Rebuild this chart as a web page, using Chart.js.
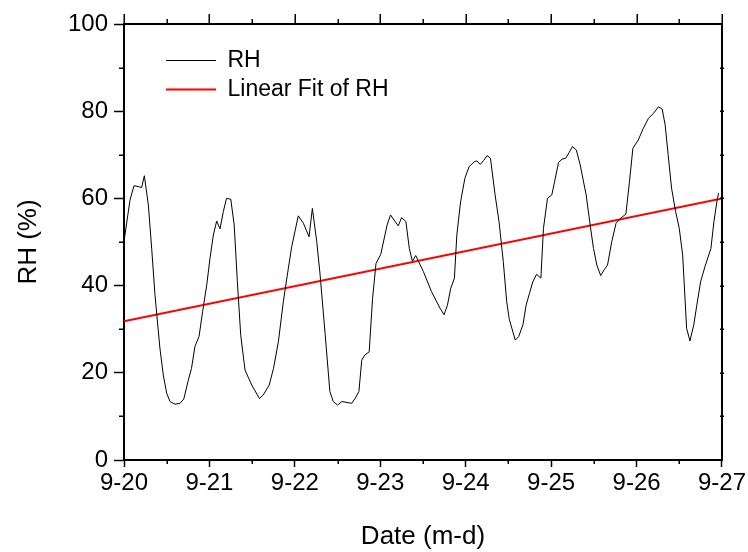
<!DOCTYPE html>
<html>
<head>
<meta charset="utf-8">
<script src="https://cdn.jsdelivr.net/npm/chart.js@4.4.1/dist/chart.umd.min.js"></script>
<style>
  html,body{margin:0;padding:0;background:#fff;}
  canvas{display:block;}
</style>
</head>
<body>
<canvas id="c" width="748" height="552"></canvas>
<script>
// tick labels on the date axis (days after 9-20 00:00)
const dateLabels = ['9-20','9-21','9-22','9-23','9-24','9-25','9-26','9-27'];

// RH series: time in days since 9-20, RH in %
const rhDays = [0.00,0.07,0.117,0.168,0.207,0.238,0.285,0.324,0.363,0.42,0.46,0.50,0.539,0.597,0.656,0.70,0.753,0.79,0.83,0.878,0.92,0.968,
  1.007,1.046,1.085,1.124,1.163,1.20,1.25,1.29,1.327,1.366,1.417,1.495,1.585,1.63,1.70,1.75,1.807,1.865,1.924,1.963,
  2.04,2.10,2.166,2.205,2.256,2.295,2.354,2.41,2.45,2.50,2.55,2.61,2.666,2.705,2.75,2.783,2.82,2.87,2.91,2.95,
  3.006,3.08,3.12,3.17,3.21,3.25,3.30,3.34,3.376,3.415,3.505,3.60,3.70,3.747,3.786,3.825,3.868,3.896,3.94,3.99,
  4.04,4.10,4.13,4.17,4.21,4.25,4.29,4.344,4.39,4.44,4.48,4.51,4.58,4.62,4.67,4.707,4.746,4.786,4.83,4.88,4.91,4.957,
  5.008,5.04,5.086,5.126,5.17,5.21,5.25,5.295,5.34,5.41,5.457,5.496,5.535,5.58,5.62,5.66,5.71,5.76,5.81,5.875,5.917,5.957,
  6.02,6.08,6.14,6.198,6.256,6.30,6.335,6.37,6.41,6.457,6.50,6.54,6.586,6.625,6.67,6.705,6.75,6.80,6.87,6.906,6.94,6.96];
const rhValues = [50.1,59.6,62.9,62.7,62.5,65.2,58.5,48.5,37.8,25.7,19.5,15.3,13.4,12.8,13.0,14.0,18.3,21.0,26.0,28.3,34.0,40.1,
  46.3,51.6,54.8,53.0,57.0,60.0,59.8,53.9,40.9,28.7,20.6,17.2,14.1,14.9,17.2,21.0,27.1,36.3,44.0,48.9,
  56.0,54.3,51.2,57.7,50.1,42.6,29.0,15.7,13.4,12.6,13.4,13.2,13.0,14.1,15.7,22.9,24.1,24.8,37.1,45.1,
  47.2,53.9,56.2,54.8,53.7,55.6,54.7,48.5,45.6,46.9,43.2,38.6,34.8,33.3,35.5,39.4,41.7,51.6,59.2,64.6,
  67.3,68.4,68.6,67.8,68.7,69.8,69.2,60.8,54.7,45.5,36.3,32.3,27.5,28.3,31.0,35.5,38.2,40.9,42.6,41.7,53.1,60.0,
  60.8,63.8,68.2,69.0,69.2,70.5,71.9,71.1,67.7,60.8,53.9,48.5,44.7,42.3,43.6,44.7,50.1,54.3,55.4,56.4,63.8,71.5,
  73.4,76.1,78.4,79.5,81.0,80.5,76.8,70.0,62.3,57.0,53.1,47.0,30.2,27.3,31.0,35.5,40.9,44.3,48.5,54.7,59.2,61.2];

// linear fit end points
const fitDays = [0, 7];
const fitValues = [31.8, 60.0];

Chart.defaults.font.family = '"Liberation Sans", Arial, sans-serif';
Chart.defaults.color = '#000';

// frame on top/right plus the minor ticks Chart.js has no option for
const frame = {
  id: 'frame',
  afterLayout(c) { if (c.legend) { c.legend.left += 36; c.legend.top += 43; } },
  afterDraw(c) {
    const ctx = c.ctx, a = c.chartArea, x = c.scales.x, y = c.scales.y;
    ctx.save();
    ctx.strokeStyle = '#000';
    ctx.lineWidth = 2;
    ctx.beginPath();
    ctx.moveTo(a.left - 1, a.top); ctx.lineTo(a.right, a.top); ctx.lineTo(a.right, a.bottom + 1);
    ctx.stroke();
    ctx.lineWidth = 1.5;
    ctx.beginPath();
    for (let d = 0; d <= 7; d += 0.5) {
      const px = Math.round(x.getPixelForValue(d)) + 0.25;
      const major = d % 1 === 0;
      ctx.moveTo(px, a.top); ctx.lineTo(px, a.top - (major ? 10 : 5));
      if (!major) { ctx.moveTo(px, a.bottom); ctx.lineTo(px, a.bottom + 4); }
    }
    for (let v = 10; v < 100; v += 20) {
      const py = Math.round(y.getPixelForValue(v)) + 0.25;
      ctx.moveTo(a.left, py); ctx.lineTo(a.left - 5, py);
    }
    for (let v = 10; v < 100; v += 10) {
      const py = Math.round(y.getPixelForValue(v)) + 0.25;
      ctx.moveTo(a.right - 2, py); ctx.lineTo(a.right + 2, py);
    }
    ctx.stroke();
    ctx.restore();
  }
};

new Chart(document.getElementById('c'), {
  type: 'line',
  data: {
    datasets: [
      { label: 'RH', data: rhDays.map((d, i) => ({x: d, y: rhValues[i]})),
        borderColor: '#000', borderWidth: 1, pointRadius: 0, tension: 0 },
      { label: 'Linear Fit of RH', data: fitDays.map((d, i) => ({x: d, y: fitValues[i]})),
        borderColor: '#ff0000', borderWidth: 2, pointRadius: 0 }
    ]
  },
  options: {
    responsive: false,
    animation: false,
    devicePixelRatio: 1,
    layout: { padding: { left: 0, top: 24, right: 26, bottom: 0 } },
    plugins: {
      tooltip: { enabled: false },
      legend: {
        position: 'chartArea', align: 'start',
        labels: { usePointStyle: true, pointStyle: 'line', pointStyleWidth: 50,
          font: { size: 23 }, color: '#000', padding: 6 }
      }
    },
    scales: {
      x: {
        type: 'linear', min: 0, max: 7,
        afterFit: s => { s.height = 92; },
        ticks: { stepSize: 1, autoSkip: false, maxRotation: 0, padding: 2,
          font: { size: 24 }, color: '#000', callback: v => dateLabels[v] },
        grid: { drawOnChartArea: false, tickLength: 7, tickWidth: 1.5, tickColor: '#000' },
        border: { color: '#000', width: 2 },
        title: { display: true, text: 'Date (m-d)', font: { size: 26 }, color: '#000', padding: { top: 0, bottom: 0 } }
      },
      y: {
        min: 0, max: 100,
        afterFit: s => { s.width = 124; },
        ticks: { stepSize: 20, padding: 6, font: { size: 24 }, color: '#000' },
        grid: { drawOnChartArea: false, tickLength: 10, tickWidth: 1.5, tickColor: '#000' },
        border: { color: '#000', width: 2 },
        title: { display: true, text: 'RH (%)', font: { size: 26 }, color: '#000', padding: { top: 13, bottom: 0 } }
      }
    }
  },
  plugins: [frame]
});
</script>
</body>
</html>
